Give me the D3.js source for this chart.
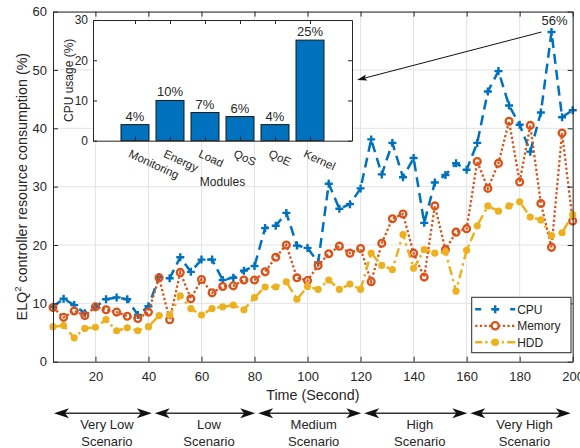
<!DOCTYPE html>
<html>
<head>
<meta charset="utf-8">
<script src="https://cdn.jsdelivr.net/npm/d3@7"></script>
<style>
  body { margin: 0; background: #fff; }
  text { font-family: "Liberation Sans", Arial, Helvetica, sans-serif; fill: #262626; }
</style>
</head>
<body>
<svg id="chart" width="580" height="448"></svg>
<script>
// --- data ---
const time = [4, 8, 12, 16, 20, 24, 28, 32, 36, 40, 44, 48, 52, 56, 60, 64, 68, 72, 76, 80,
  84, 88, 92, 96, 100, 104, 108, 112, 116, 120, 124, 128, 132, 136, 140, 144, 148, 152, 156, 160,
  164, 168, 172, 176, 180, 184, 188, 192, 196, 200];

const cpu = [9.4, 10.8, 9.7, 8.3, 9.4, 10.7, 11.0, 10.7, 8.0, 9.5,
  14.5, 14.3, 17.9, 15.4, 17.5, 17.5, 14.0, 14.4, 15.6, 16.4,
  22.9, 23.3, 25.5, 19.9, 19.5, 17.0, 30.5, 26.2, 27.0, 29.7,
  38.1, 32.1, 37.5, 31.6, 34.9, 23.8, 30.7, 32.0, 34.0, 32.9,
  37.5, 46.3, 49.8, 43.9, 40.6, 36.0, 42.7, 56.5, 41.9, 43.1];

const memory = [9.3, 7.6, 8.7, 7.9, 9.4, 8.9, 8.5, 7.8, 7.4, 8.5,
  14.4, 7.2, 15.3, 10.8, 14.1, 11.8, 12.9, 13.0, 14.0, 14.0,
  15.4, 17.9, 20.0, 14.4, 13.9, 16.5, 18.5, 19.8, 18.6, 19.4,
  13.7, 20.3, 24.5, 25.3, 18.6, 14.5, 26.7, 19.2, 22.2, 22.8,
  34.3, 29.7, 34.0, 41.2, 30.8, 40.5, 27.1, 19.6, 39.2, 24.1];

const hdd = [6.0, 6.2, 4.1, 5.7, 5.9, 7.2, 5.3, 5.8, 5.3, 6.0,
  7.9, 8.0, 11.3, 9.1, 8.0, 9.1, 9.4, 9.7, 8.9, 11.0,
  12.8, 12.8, 13.7, 10.7, 12.9, 12.4, 14.0, 12.4, 13.3, 12.4,
  18.6, 16.5, 15.8, 21.8, 16.0, 19.2, 18.6, 18.8, 12.1, 19.1,
  23.3, 26.7, 25.8, 26.7, 27.4, 24.8, 24.3, 21.6, 22.1, 25.2];

const seriesNames = ["CPU", "Memory", "HDD"];

const modules = ["Monitoring", "Energy", "Load", "QoS", "QoE", "Kernel"];
const moduleUsage = [4, 10, 7, 6, 4, 25];

const xTicks = [20, 40, 60, 80, 100, 120, 140, 160, 180, 200];
const yTicks = [0, 10, 20, 30, 40, 50, 60];
const insetTicks = [0, 10, 20, 30];

const scenarioNames = [["Very Low", "Scenario"], ["Low", "Scenario"], ["Medium", "Scenario"],
  ["High", "Scenario"], ["Very High", "Scenario"]];
const scenarioBounds = [4, 42, 81, 121, 161, 200];

const peakTime = 192;
const peakLabel = "56%";

// --- layout ---
const svg = d3.select("#chart");
const axisColor = "#262626";
const blue = "#0072BD", orange = "#D95319", yellow = "#EDB120";

const x = d3.scaleLinear().domain([4, 200]).range([53, 572.7]);
const y = d3.scaleLinear().domain([0, 60]).range([361.7, 11.6]);

// grid
const grid = svg.append("g").attr("stroke", "#e3e3e3").attr("stroke-width", 1);
grid.selectAll(".gx").data(xTicks).enter().append("line")
  .attr("x1", (d) => x(d)).attr("x2", (d) => x(d))
  .attr("y1", y(0)).attr("y2", y(60));
grid.selectAll(".gy").data(yTicks.slice(1)).enter().append("line")
  .attr("x1", x(4)).attr("x2", x(200))
  .attr("y1", (d) => y(d)).attr("y2", (d) => y(d));

// series
const line = d3.line().x((d, i) => x(time[i])).y((d) => y(d));

svg.append("path").datum(cpu)
  .attr("fill", "none").attr("stroke", blue).attr("stroke-width", 2.5)
  .attr("stroke-dasharray", "10,6").attr("d", line);
svg.append("g").selectAll("path").data(cpu).enter().append("path")
  .attr("d", (d, i) => `M${x(time[i]) - 4},${y(d)}H${x(time[i]) + 4}M${x(time[i])},${y(d) - 4}V${y(d) + 4}`)
  .attr("stroke", blue).attr("stroke-width", 2.4);

svg.append("path").datum(memory)
  .attr("fill", "none").attr("stroke", orange).attr("stroke-width", 2.3)
  .attr("stroke-dasharray", "2.3,2.3").attr("d", line);
svg.append("g").selectAll("circle").data(memory).enter().append("circle")
  .attr("cx", (d, i) => x(time[i])).attr("cy", (d) => y(d)).attr("r", 3.4)
  .attr("fill", "none").attr("stroke", orange).attr("stroke-width", 2.3);

svg.append("path").datum(hdd)
  .attr("fill", "none").attr("stroke", yellow).attr("stroke-width", 2.5)
  .attr("stroke-dasharray", "9,4,2.5,4").attr("d", line);
svg.append("g").selectAll("circle").data(hdd).enter().append("circle")
  .attr("cx", (d, i) => x(time[i])).attr("cy", (d) => y(d)).attr("r", 3.6)
  .attr("fill", yellow);

// axes box with inside ticks
const styleAxis = (g) => {
  g.select(".domain").attr("stroke", axisColor);
  g.selectAll(".tick line").attr("stroke", axisColor);
  g.selectAll("text").attr("fill", axisColor).attr("font-size", 13)
    .attr("font-family", '"Liberation Sans", Arial, sans-serif');
};
svg.append("g").attr("transform", `translate(0,${y(0)})`)
  .call(d3.axisBottom(x).tickValues(xTicks).tickSizeInner(-5).tickSizeOuter(0).tickPadding(10))
  .call(styleAxis);
svg.append("g").attr("transform", `translate(0,${y(60)})`)
  .call(d3.axisTop(x).tickValues(xTicks).tickSizeInner(-5).tickSizeOuter(0).tickFormat(""))
  .call(styleAxis);
svg.append("g").attr("transform", `translate(${x(4)},0)`)
  .call(d3.axisLeft(y).tickValues(yTicks).tickSizeInner(-5).tickSizeOuter(0).tickPadding(6))
  .call(styleAxis);
svg.append("g").attr("transform", `translate(${x(200)},0)`)
  .call(d3.axisRight(y).tickValues(yTicks).tickSizeInner(-5).tickSizeOuter(0).tickFormat(""))
  .call(styleAxis);

// axis titles
svg.append("text").attr("x", (x(4) + x(200)) / 2).attr("y", 400)
  .attr("text-anchor", "middle").attr("font-size", 14.3).text("Time (Second)");
const yl = svg.append("text")
  .attr("transform", `translate(26.5,${(y(0) + y(60)) / 2}) rotate(-90)`)
  .attr("text-anchor", "middle").attr("font-size", 14.3);
yl.append("tspan").text("ELQ");
yl.append("tspan").attr("font-size", 9.5).attr("dy", -6).text("2");
yl.append("tspan").attr("dy", 6).text(" controller resource consumption (%)");

// legend
const legend = svg.append("g").attr("transform", "translate(471.7,297.3)");
legend.append("rect").attr("width", 99.3).attr("height", 55.4)
  .attr("fill", "#fff").attr("stroke", axisColor).attr("stroke-width", 1);
const legendRows = legend.selectAll("g.row").data(seriesNames).enter().append("g")
  .attr("transform", (d, i) => `translate(0,${12 + i * 16.5})`);
legendRows.append("line").attr("x1", 3.5).attr("x2", 43.5).attr("y1", 0).attr("y2", 0)
  .attr("stroke", (d, i) => [blue, orange, yellow][i])
  .attr("stroke-width", (d, i) => [2.5, 2.3, 2.5][i])
  .attr("stroke-dasharray", (d, i) => ["6,11.5", "2.3,2.3", "8,3,2.5,3"][i])
  .attr("stroke-dashoffset", (d, i) => [0, 0, 1][i]);
legendRows.filter((d, i) => i === 0).append("path")
  .attr("d", "M19.5,0H27.5M23.5,-4V4").attr("stroke", blue).attr("stroke-width", 2.4);
legendRows.filter((d, i) => i === 1).append("circle")
  .attr("cx", 23.5).attr("r", 3.6).attr("fill", "#fff").attr("stroke", orange).attr("stroke-width", 2.3);
legendRows.filter((d, i) => i === 2).append("circle")
  .attr("cx", 23.5).attr("r", 3.8).attr("fill", yellow);
legendRows.append("text").attr("x", 45.5).attr("y", 4.3).attr("font-size", 12).text((d) => d);

// inset bar chart
const ix = d3.scaleLinear().domain([-0.2, 7.2]).range([93, 352]);
const iy = d3.scaleLinear().domain([0, 30]).range([140.7, 20]);
const inset = svg.append("g");
inset.append("rect").attr("x", ix(-0.2)).attr("y", iy(30))
  .attr("width", ix(7.2) - ix(-0.2)).attr("height", iy(0) - iy(30)).attr("fill", "#fff");

inset.selectAll("rect.bar").data(moduleUsage).enter().append("rect")
  .attr("class", "bar")
  .attr("x", (d, i) => ix(i + 1 - 0.4)).attr("width", ix(0.8) - ix(0))
  .attr("y", (d) => iy(d)).attr("height", (d) => iy(0) - iy(d))
  .attr("fill", blue).attr("stroke", "#1a1a1a").attr("stroke-width", 1);
inset.selectAll("text.val").data(moduleUsage).enter().append("text")
  .attr("x", (d, i) => ix(i + 1)).attr("y", (d) => iy(d) - 4)
  .attr("text-anchor", "middle").attr("font-size", 13).text((d) => d + "%");

const catTicks = modules.map((d, i) => i + 1);
const styleInset = (g) => {
  styleAxis(g);
  g.selectAll("text").attr("font-size", 12);
};
inset.append("g").attr("transform", `translate(0,${iy(0)})`)
  .call(d3.axisBottom(ix).tickValues(catTicks).tickSizeInner(-4).tickSizeOuter(0)
    .tickPadding(0).tickFormat((d) => modules[d - 1]))
  .call(styleInset)
  .selectAll("text")
  .attr("y", 0).attr("dy", "0.75em").attr("text-anchor", "start")
  .attr("font-size", 11.5).attr("fill", "#404040")
  .attr("transform", "translate(-4,8) rotate(25)");
inset.append("g").attr("transform", `translate(0,${iy(30)})`)
  .call(d3.axisTop(ix).tickValues(catTicks).tickSizeInner(-4).tickSizeOuter(0).tickFormat(""))
  .call(styleInset);
inset.append("g").attr("transform", `translate(${ix(-0.2)},0)`)
  .call(d3.axisLeft(iy).tickValues(insetTicks).tickSizeInner(-4).tickSizeOuter(0).tickPadding(5))
  .call(styleInset);
inset.append("g").attr("transform", `translate(${ix(7.2)},0)`)
  .call(d3.axisRight(iy).tickValues(insetTicks).tickSizeInner(-4).tickSizeOuter(0).tickFormat(""))
  .call(styleInset);

inset.append("text").attr("x", (ix(-0.2) + ix(7.2)) / 2).attr("y", 186)
  .attr("text-anchor", "middle").attr("font-size", 12).text("Modules");
inset.append("text")
  .attr("transform", `translate(72.5,${(iy(0) + iy(30)) / 2}) rotate(-90)`)
  .attr("text-anchor", "middle").attr("font-size", 12).text("CPU usage (%)");

// arrowhead helper (tip at x,y, pointing along angle)
const arrowHead = (g, tx, ty, angle, len, half, notch) => {
  g.append("path")
    .attr("d", `M0,0L${len},${-half}L${len - notch},0L${len},${half}Z`)
    .attr("transform", `translate(${tx},${ty}) rotate(${angle})`)
    .attr("fill", "#111");
};

// annotation: peak CPU -> inset
const peakIdx = time.indexOf(peakTime);
const ax0 = x(peakTime) - 10, ay0 = y(cpu[peakIdx]);
const ax1 = ix(7.2) + 5, ay1 = 80;
const ang = Math.atan2(ay0 - ay1, ax0 - ax1) * 180 / Math.PI;
const annot = svg.append("g");
annot.append("line").attr("x1", ax0).attr("y1", ay0).attr("x2", ax1 + 6).attr("y2", ay1 - 1.5)
  .attr("stroke", "#111").attr("stroke-width", 1);
arrowHead(annot, ax1, ay1, ang, 10, 3.2, 2);
annot.append("text").attr("x", x(peakTime) + 3).attr("y", y(cpu[peakIdx]) - 7)
  .attr("text-anchor", "middle").attr("font-size", 13).text(peakLabel);

// scenario arrows below the time axis
const scen = svg.append("g");
scenarioNames.forEach((lines, i) => {
  const a = x(scenarioBounds[i]) + 1;
  const b = x(scenarioBounds[i + 1]) - 2;
  const ya = 413.3;
  scen.append("line").attr("x1", a + 8).attr("x2", b - 8).attr("y1", ya).attr("y2", ya)
    .attr("stroke", "#333").attr("stroke-width", 1.4);
  arrowHead(scen, a, ya, 0, 15, 5, 4);
  arrowHead(scen, b, ya, 180, 15, 5, 4);
  const t = scen.append("text").attr("text-anchor", "middle").attr("font-size", 13)
    .attr("fill", "#111");
  lines.forEach((s, j) => {
    t.append("tspan").attr("x", (a + b) / 2 + 4).attr("y", 428.6 + j * 17.7).text(s);
  });
});
</script>
</body>
</html>
